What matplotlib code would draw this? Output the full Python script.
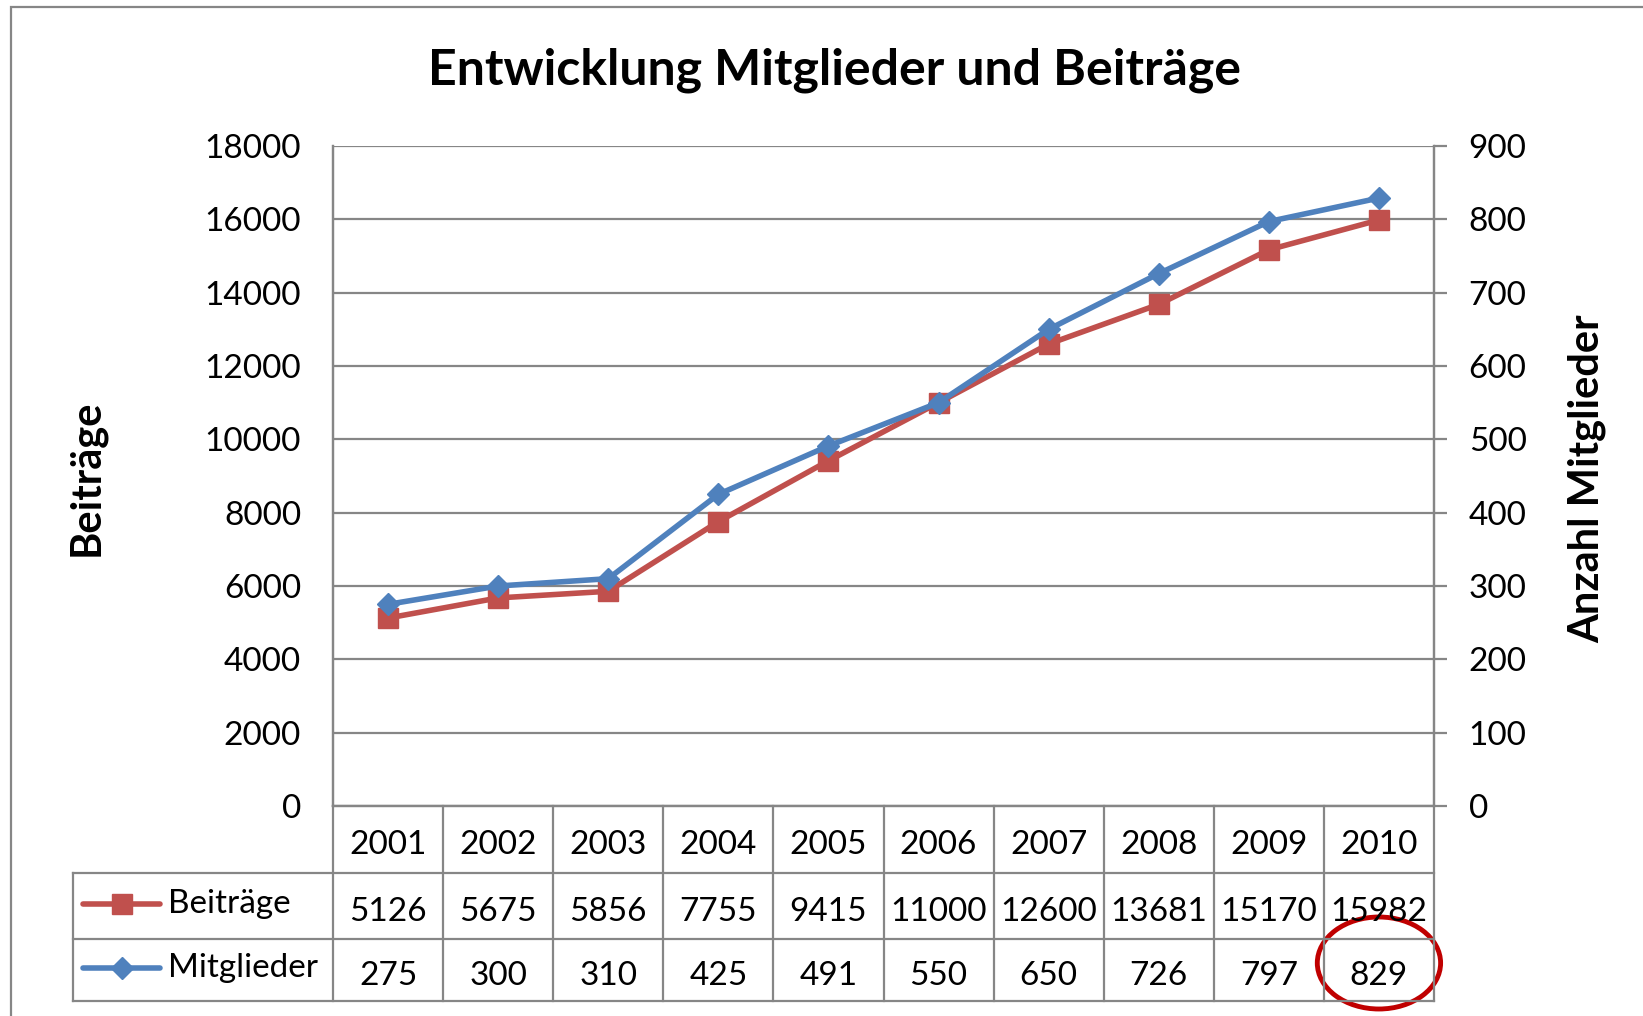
import matplotlib.pyplot as plt
from matplotlib.patches import Ellipse, Rectangle
from matplotlib.lines import Line2D
from matplotlib.transforms import blended_transform_factory

plt.rcParams['font.family'] = ['Lato', 'DejaVu Sans']

years = ['2001', '2002', '2003', '2004', '2005', '2006', '2007', '2008', '2009', '2010']
beitraege = [5126, 5675, 5856, 7755, 9415, 11000, 12600, 13681, 15170, 15982]
mitglieder = [275, 300, 310, 425, 491, 550, 650, 726, 797, 829]

red = '#C0504D'
blue = '#4F81BD'
grey = '#868686'

W, H = 1643, 1016
fig = plt.figure(figsize=(W / 100, H / 100), dpi=100)


def fy(py):
    # pixel row (from top) -> figure fraction
    return 1 - py / H


def fx(px):
    return px / W


# outer chart border
fig.patches.append(Rectangle((fx(11), fy(1030)), 1.2, fy(7) - fy(1030),
                             transform=fig.transFigure, fill=False,
                             edgecolor=grey, lw=1.6))

left, right, top, bottom = 333, 1434, 146, 806
ax = fig.add_axes([fx(left), fy(bottom), fx(right) - fx(left), fy(top) - fy(bottom)])
ax2 = ax.twinx()

x = list(range(len(years)))
ax.set_xlim(-0.5, len(years) - 0.5)
ax.set_ylim(0, 18000)
ax.set_yticks(range(0, 18001, 2000))
ax2.set_ylim(0, 900)
ax2.set_yticks(range(0, 901, 100))

ax.yaxis.grid(True, color=grey, lw=1.6)
ax.set_xticks([])
ax.tick_params(axis='y', length=0, pad=23, labelsize=24)
ax2.tick_params(axis='y', length=9, width=1.6, color=grey, pad=16, labelsize=24)
for a in (ax, ax2):
    for s in a.spines.values():
        s.set_color(grey)
        s.set_linewidth(1.6)
    a.spines['top'].set_visible(False)

ax.plot(x, beitraege, color=red, lw=4, marker='s', ms=15, zorder=3, clip_on=False)
ax2.plot(x, mitglieder, color=blue, lw=4, marker='D', ms=11, zorder=3, clip_on=False)

# axis titles
fig.text(fx(86), fy(478), 'Beiträge', fontsize=30, fontweight='bold',
         rotation=90, ha='center', va='center')
fig.text(fx(1587), fy(479), 'Anzahl Mitglieder', fontsize=30, fontweight='bold',
         rotation=90, ha='center', va='center')

fig.text(fx(834), fy(70), 'Entwicklung Mitglieder und Beiträge', fontsize=36,
         fontweight='bold', ha='center', va='center')

# data table below the plot
tr = blended_transform_factory(ax.transData, fig.transFigure)
rows = [806, 873, 939, 1001]
for i in range(len(years) + 1):
    fig.add_artist(Line2D([i - 0.5, i - 0.5], [fy(rows[0]), fy(rows[3])],
                          transform=tr, color=grey, lw=1.6))
for r in rows[1:]:
    fig.add_artist(Line2D([fx(73), fx(right)], [fy(r), fy(r)],
                          transform=fig.transFigure, color=grey, lw=1.6))
fig.add_artist(Line2D([fx(73), fx(73)], [fy(rows[1]), fy(rows[3])],
                      transform=fig.transFigure, color=grey, lw=1.6))

for i, yr in enumerate(years):
    fig.text(i, fy((rows[0] + rows[1]) / 2 + 6), yr, transform=tr,
             ha='center', va='center', fontsize=24)
    fig.text(i, fy((rows[1] + rows[2]) / 2 + 6), str(beitraege[i]), transform=tr,
             ha='center', va='center', fontsize=24)
    fig.text(i, fy((rows[2] + rows[3]) / 2 + 6), str(mitglieder[i]), transform=tr,
             ha='center', va='center', fontsize=24)

# legend keys in the table
for (name, col, mk, ms), (r0, r1) in zip(
        [('Beiträge', red, 's', 15), ('Mitglieder', blue, 'D', 11)],
        [(rows[1], rows[2]), (rows[2], rows[3])]):
    yc = fy((r0 + r1) / 2 - 2)
    fig.add_artist(Line2D([fx(83), fx(160)], [yc, yc], transform=fig.transFigure,
                          color=col, lw=4, solid_capstyle='round'))
    fig.add_artist(Line2D([fx(122)], [yc], transform=fig.transFigure,
                          color=col, marker=mk, ms=ms))
    fig.text(fx(168), yc, name, ha='left', va='center', fontsize=24)

# highlight last members value
fig.patches.append(Ellipse((len(years) - 1, fy(963)), 1.12, 92 / H, transform=tr,
                           fill=False, edgecolor='#C00000', lw=3.5))

plt.savefig('out.png', dpi=100)
